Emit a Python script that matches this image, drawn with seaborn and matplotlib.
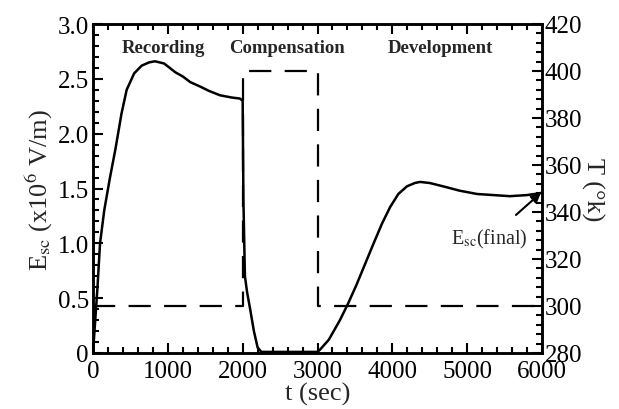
import matplotlib
matplotlib.use("Agg")
import matplotlib.pyplot as plt
import matplotlib.transforms as mtransforms
import seaborn as sns
import pandas as pd
from matplotlib.ticker import MultipleLocator, FuncFormatter

# ---- data ----
t_esc = [0, 30, 60, 94, 150, 227, 300, 380, 450, 550, 650, 750, 828, 950, 1100,
         1203, 1300, 1430, 1550, 1697, 1850, 1964, 2000, 2010, 2030, 2060, 2100,
         2150, 2200, 2250, 2500, 2800, 3000, 3033, 3150, 3300, 3408, 3520, 3635,
         3750, 3862, 3970, 4080, 4196, 4300, 4370, 4500, 4677, 4900, 5131, 5350,
         5572, 5800, 6000]
esc = [0, 0.3, 0.6, 1.0, 1.3, 1.6, 1.86, 2.18, 2.4, 2.55, 2.62, 2.65, 2.66, 2.64,
       2.56, 2.52, 2.47, 2.43, 2.39, 2.35, 2.33, 2.32, 2.30, 1.4, 0.7, 0.55, 0.4,
       0.2, 0.05, 0.01, 0.01, 0.01, 0.01, 0.03, 0.12, 0.3, 0.45, 0.62, 0.81, 1.0,
       1.18, 1.33, 1.45, 1.52, 1.55, 1.56, 1.55, 1.52, 1.48, 1.45, 1.44, 1.43,
       1.44, 1.46]
t_temp = [0, 2000, 2000, 3000, 3000, 6000]
temp = [300, 300, 400, 400, 300, 300]
phase_labels = ["Recording", "Compensation", "Development"]
phase_x = [935, 2590, 4640]

sns.set_style("ticks")
plt.rcParams['font.family'] = ['Liberation Serif', 'DejaVu Serif']
plt.rcParams['mathtext.fontset'] = 'stix'

fig = plt.figure(figsize=(6.19, 4.10), dpi=100)
ax = fig.add_axes([93/619, 1 - 354/410, 449/619, 329/410])
ax2 = ax.twinx()

df_e = pd.DataFrame({"t": t_esc, "E": esc})
df_t = pd.DataFrame({"t": t_temp, "T": temp})

sns.lineplot(data=df_e, x="t", y="E", ax=ax, sort=False, estimator=None,
             color="black", lw=1.8)
sns.lineplot(data=df_t, x="t", y="T", ax=ax2, sort=False, estimator=None,
             color="black", lw=1.6, dashes=False)
ax2.lines[0].set_dashes([10, 6])

ax.set_xlim(0, 6000)
ax.set_ylim(0, 3.0)
ax2.set_ylim(280, 420)

ax.xaxis.set_major_locator(MultipleLocator(1000))
ax.xaxis.set_minor_locator(MultipleLocator(200))
ax.yaxis.set_major_locator(MultipleLocator(0.5))
ax.yaxis.set_minor_locator(MultipleLocator(0.1))
ax2.yaxis.set_major_locator(MultipleLocator(20))
ax2.yaxis.set_minor_locator(MultipleLocator(4))
ax.yaxis.set_major_formatter(FuncFormatter(lambda v, p: "0" if v == 0 else f"{v:.1f}"))
ax.xaxis.set_major_formatter(FuncFormatter(lambda v, p: f"{int(v)}"))

for a in (ax, ax2):
    a.tick_params(which="both", direction="in", width=1.5, labelsize=18, colors="black")
    a.tick_params(which="major", length=7)
    a.tick_params(which="minor", length=4)
    for s in a.spines.values():
        s.set_linewidth(1.8)
        s.set_color("black")
ax.tick_params(axis="x", which="both", top=True)
ax.tick_params(axis="x", pad=5)
ax.tick_params(axis="y", pad=3)
ax2.tick_params(axis="y", pad=2)

ax.set_xlabel("t (sec)", fontsize=19, labelpad=0)
ax.set_ylabel("E$_{\\rm sc}$ (x10$^{6}$ V/m)", fontsize=19, labelpad=2)
ax2.set_ylabel("T (°k)", fontsize=19, rotation=270, labelpad=16)

# nudge the lowest right-axis label up slightly so it clears "6000"
fig.canvas.draw()
low = ax2.yaxis.get_majorticklabels()[0]
low.set_transform(low.get_transform() + mtransforms.ScaledTranslation(0, 4/72, fig.dpi_scale_trans))

for lbl, x in zip(phase_labels, phase_x):
    ax.text(x, 2.79, lbl, ha="center", va="center", fontsize=13.5, fontweight="bold")

ax.annotate("E$_{\\rm sc}$(final)", xy=(5985, 1.46), xytext=(5290, 1.04),
            ha="center", va="center", fontsize=14.5,
            arrowprops=dict(arrowstyle="-|>", color="black", lw=1.5,
                            mutation_scale=14, shrinkA=10, shrinkB=0))

fig.savefig("out.png", dpi=100)
